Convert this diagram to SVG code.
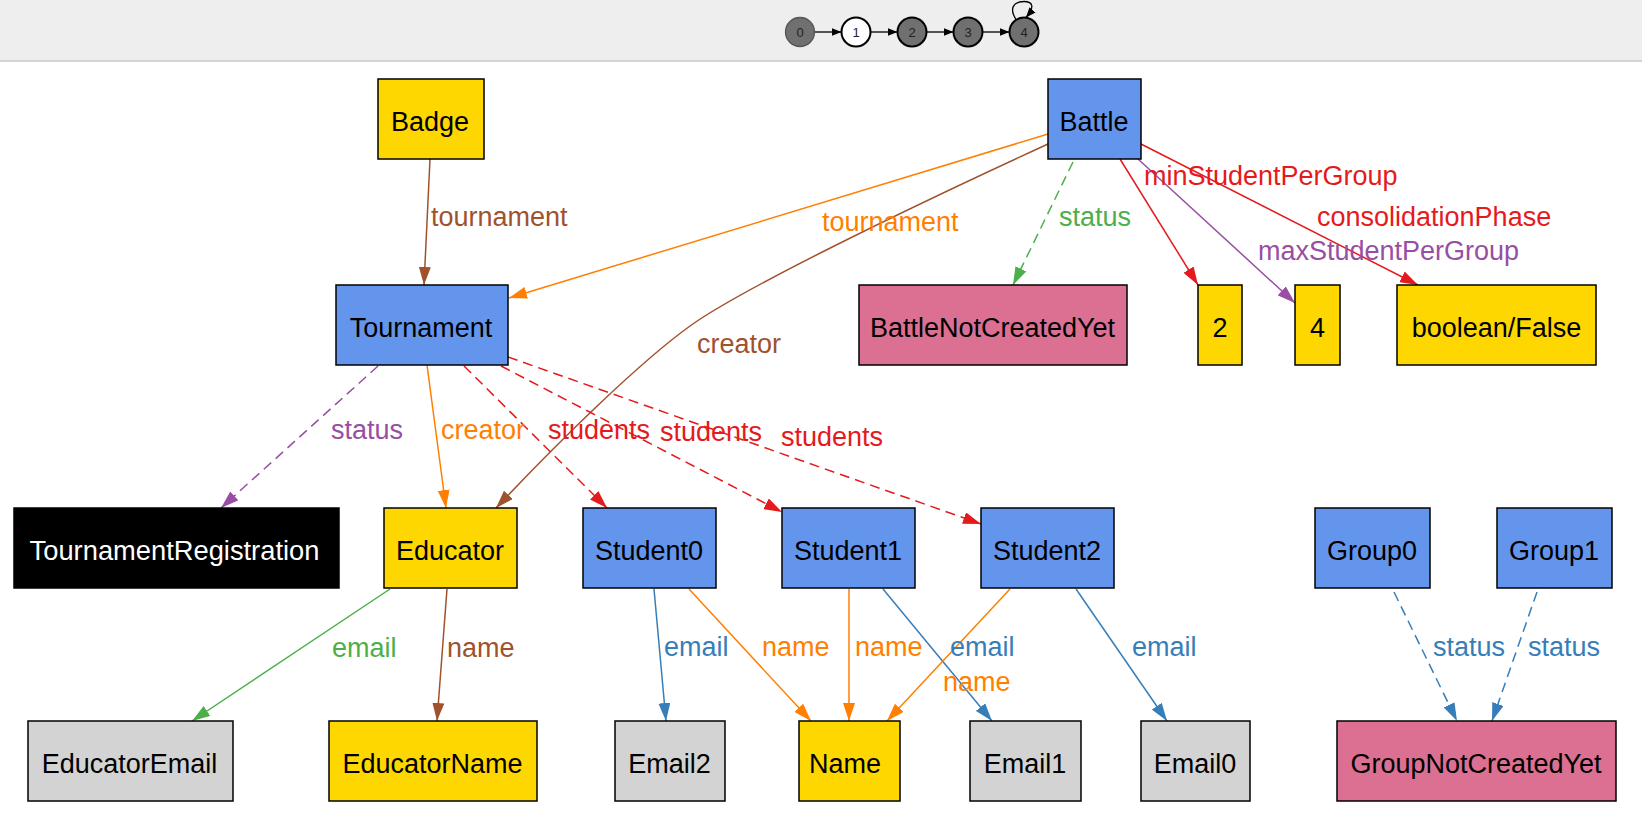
<svg xmlns="http://www.w3.org/2000/svg" width="1642" height="816" viewBox="0 0 1642 816">
<style>
.n{stroke:#000;stroke-width:1.5}
.t{font-family:"Liberation Sans",Arial,sans-serif;font-size:27px;text-anchor:middle;fill:#000}
.l{font-family:"Liberation Sans",Arial,sans-serif;font-size:27px}
.e{fill:none;stroke-width:1.5}
.d{stroke-dasharray:10,6}
.sn{font-family:"Liberation Sans",Arial,sans-serif;font-size:13px;text-anchor:middle;fill:#222}
</style>
<defs>
<marker id="mS" markerUnits="userSpaceOnUse" markerWidth="18" markerHeight="12" refX="18" refY="6" orient="auto"><path d="M0,0 L18,6 L0,12 z" fill="#A0522D"/></marker>
<marker id="mO" markerUnits="userSpaceOnUse" markerWidth="18" markerHeight="12" refX="18" refY="6" orient="auto"><path d="M0,0 L18,6 L0,12 z" fill="#FF7F00"/></marker>
<marker id="mG" markerUnits="userSpaceOnUse" markerWidth="18" markerHeight="12" refX="18" refY="6" orient="auto"><path d="M0,0 L18,6 L0,12 z" fill="#4DAF4A"/></marker>
<marker id="mR" markerUnits="userSpaceOnUse" markerWidth="18" markerHeight="12" refX="18" refY="6" orient="auto"><path d="M0,0 L18,6 L0,12 z" fill="#E41A1C"/></marker>
<marker id="mP" markerUnits="userSpaceOnUse" markerWidth="18" markerHeight="12" refX="18" refY="6" orient="auto"><path d="M0,0 L18,6 L0,12 z" fill="#984EA3"/></marker>
<marker id="mB" markerUnits="userSpaceOnUse" markerWidth="18" markerHeight="12" refX="18" refY="6" orient="auto"><path d="M0,0 L18,6 L0,12 z" fill="#377EB8"/></marker>
<marker id="mK" markerUnits="userSpaceOnUse" markerWidth="10" markerHeight="8" refX="10" refY="4" orient="auto"><path d="M0,0 L10,4 L0,8 z" fill="#000"/></marker>
</defs>
<rect x="0" y="0" width="1642" height="816" fill="#fff"/>
<g id="statebar">
<rect x="0" y="0" width="1642" height="61" fill="#eeeeee"/>
<line x1="0" y1="61" x2="1642" y2="61" stroke="#c8c8c8" stroke-width="1.5"/>
<g stroke="#000" stroke-width="1.3" fill="none">
<line x1="814.5" y1="32" x2="841.5" y2="32" marker-end="url(#mK)"/>
<line x1="870.5" y1="32" x2="897.5" y2="32" marker-end="url(#mK)"/>
<line x1="926.5" y1="32" x2="953.5" y2="32" marker-end="url(#mK)"/>
<line x1="982.5" y1="32" x2="1009.5" y2="32" marker-end="url(#mK)"/>
<path d="M1017,21 C1008,8 1014,1.5 1024,1.5 C1033,1.5 1035,7 1026,17.5" marker-end="url(#mK)"/>
</g>
<circle cx="800" cy="32" r="14.5" fill="#707070" stroke="#555" stroke-width="1.3"/>
<circle cx="856" cy="32" r="14.5" fill="#fff" stroke="#000" stroke-width="2"/>
<circle cx="912" cy="32" r="14.5" fill="#707070" stroke="#000" stroke-width="2"/>
<circle cx="968" cy="32" r="14.5" fill="#707070" stroke="#000" stroke-width="2"/>
<circle cx="1024" cy="32" r="14.5" fill="#707070" stroke="#000" stroke-width="2"/>
<text class="sn" x="800" y="36.5" fill="#444">0</text>
<text class="sn" x="856" y="36.5">1</text>
<text class="sn" x="912" y="36.5">2</text>
<text class="sn" x="968" y="36.5">3</text>
<text class="sn" x="1024" y="36.5">4</text>
</g>
<g id="connectors">
<path class="e" stroke="#A0522D" d="M430,159 L424,285" marker-end="url(#mS)"/>
<path class="e" stroke="#FF7F00" d="M1048,134 L509,298" marker-end="url(#mO)"/>
<path class="e" stroke="#A0522D" d="M1048,144 C900,212 740,290 690,326 C640,362 560,440 496,508" marker-end="url(#mS)"/>
<path class="e d" stroke="#4DAF4A" d="M1073,162 L1013,285" marker-end="url(#mG)"/>
<path class="e" stroke="#E41A1C" d="M1120,159 L1198,285" marker-end="url(#mR)"/>
<path class="e" stroke="#984EA3" d="M1138,159 L1295,303" marker-end="url(#mP)"/>
<path class="e" stroke="#E41A1C" d="M1141,144 L1418,285" marker-end="url(#mR)"/>
<path class="e d" stroke="#984EA3" d="M378,366 L221,508" marker-end="url(#mP)"/>
<path class="e" stroke="#FF7F00" d="M427,365 L446,508" marker-end="url(#mO)"/>
<path class="e d" stroke="#E41A1C" d="M464,366 L607,508" marker-end="url(#mR)"/>
<path class="e d" stroke="#E41A1C" d="M501,366 L782,512" marker-end="url(#mR)"/>
<path class="e d" stroke="#E41A1C" d="M508,357 L981,524" marker-end="url(#mR)"/>
<path class="e" stroke="#4DAF4A" d="M390,589 L192,721" marker-end="url(#mG)"/>
<path class="e" stroke="#A0522D" d="M447,589 L437,721" marker-end="url(#mS)"/>
<path class="e" stroke="#377EB8" d="M654,589 L666,721" marker-end="url(#mB)"/>
<path class="e" stroke="#FF7F00" d="M689,589 L811,721" marker-end="url(#mO)"/>
<path class="e" stroke="#FF7F00" d="M849,589 L849,721" marker-end="url(#mO)"/>
<path class="e" stroke="#377EB8" d="M883,589 L992,721" marker-end="url(#mB)"/>
<path class="e" stroke="#FF7F00" d="M1010,589 L887,721" marker-end="url(#mO)"/>
<path class="e" stroke="#377EB8" d="M1076,589 L1167,721" marker-end="url(#mB)"/>
<path class="e d" stroke="#377EB8" d="M1394,592 L1457,721" marker-end="url(#mB)"/>
<path class="e d" stroke="#377EB8" d="M1537,592 L1492,721" marker-end="url(#mB)"/>
<text class="l" fill="#A0522D" x="431" y="226">tournament</text>
<text class="l" fill="#FF7F00" x="822" y="231">tournament</text>
<text class="l" fill="#A0522D" x="697" y="353">creator</text>
<text class="l" fill="#4DAF4A" x="1059" y="226">status</text>
<text class="l" fill="#E41A1C" x="1144" y="185">minStudentPerGroup</text>
<text class="l" fill="#984EA3" x="1258" y="260">maxStudentPerGroup</text>
<text class="l" fill="#E41A1C" x="1317" y="226">consolidationPhase</text>
<text class="l" fill="#984EA3" x="331" y="439">status</text>
<text class="l" fill="#FF7F00" x="441" y="439">creator</text>
<text class="l" fill="#E41A1C" x="548" y="439">students</text>
<text class="l" fill="#E41A1C" x="660" y="441">students</text>
<text class="l" fill="#E41A1C" x="781" y="446">students</text>
<text class="l" fill="#4DAF4A" x="332" y="657">email</text>
<text class="l" fill="#A0522D" x="447" y="657">name</text>
<text class="l" fill="#377EB8" x="664" y="656">email</text>
<text class="l" fill="#FF7F00" x="762" y="656">name</text>
<text class="l" fill="#FF7F00" x="855" y="656">name</text>
<text class="l" fill="#377EB8" x="950" y="656">email</text>
<text class="l" fill="#FF7F00" x="943" y="691">name</text>
<text class="l" fill="#377EB8" x="1132" y="656">email</text>
<text class="l" fill="#377EB8" x="1433" y="656">status</text>
<text class="l" fill="#377EB8" x="1528" y="656">status</text>
</g>
<g id="Badge"><rect class="n" x="378" y="79" width="106" height="80" fill="#FFD700"/><text class="t" x="430" y="130.5">Badge</text></g>
<g id="Battle"><rect class="n" x="1048" y="79" width="93" height="80" fill="#6495ED"/><text class="t" x="1094" y="130.5">Battle</text></g>
<g id="Tournament"><rect class="n" x="336" y="285" width="172" height="80" fill="#6495ED"/><text class="t" x="421" y="336.5">Tournament</text></g>
<g id="BattleNotCreatedYet"><rect class="n" x="859" y="285" width="268" height="80" fill="#DB7093"/><text class="t" x="992.5" y="336.5">BattleNotCreatedYet</text></g>
<g id="Int2"><rect class="n" x="1198" y="285" width="44" height="80" fill="#FFD700"/><text class="t" x="1220" y="336.5">2</text></g>
<g id="Int4"><rect class="n" x="1295" y="285" width="45" height="80" fill="#FFD700"/><text class="t" x="1317.5" y="336.5">4</text></g>
<g id="BooleanFalse"><rect class="n" x="1397" y="285" width="199" height="80" fill="#FFD700"/><text class="t" x="1496.5" y="336.5">boolean/False</text></g>
<g id="TournamentRegistration"><rect class="n" x="14" y="508" width="325" height="80" fill="#000"/><text class="t" x="174.5" y="559.5" style="fill:#fff;font-size:27.3px">TournamentRegistration</text></g>
<g id="Educator"><rect class="n" x="384" y="508" width="133" height="80" fill="#FFD700"/><text class="t" x="450" y="559.5">Educator</text></g>
<g id="Student0"><rect class="n" x="583" y="508" width="133" height="80" fill="#6495ED"/><text class="t" x="649" y="559.5">Student0</text></g>
<g id="Student1"><rect class="n" x="782" y="508" width="133" height="80" fill="#6495ED"/><text class="t" x="848" y="559.5">Student1</text></g>
<g id="Student2"><rect class="n" x="981" y="508" width="133" height="80" fill="#6495ED"/><text class="t" x="1047" y="559.5">Student2</text></g>
<g id="Group0"><rect class="n" x="1315" y="508" width="115" height="80" fill="#6495ED"/><text class="t" x="1372" y="559.5">Group0</text></g>
<g id="Group1"><rect class="n" x="1497" y="508" width="115" height="80" fill="#6495ED"/><text class="t" x="1554" y="559.5">Group1</text></g>
<g id="EducatorEmail"><rect class="n" x="28" y="721" width="205" height="80" fill="#D3D3D3"/><text class="t" x="129.5" y="772.5">EducatorEmail</text></g>
<g id="EducatorName"><rect class="n" x="329" y="721" width="208" height="80" fill="#FFD700"/><text class="t" x="432.5" y="772.5">EducatorName</text></g>
<g id="Email2"><rect class="n" x="615" y="721" width="110" height="80" fill="#D3D3D3"/><text class="t" x="669.5" y="772.5">Email2</text></g>
<g id="Name"><rect class="n" x="799" y="721" width="101" height="80" fill="#FFD700"/><text class="t" x="845" y="772.5">Name</text></g>
<g id="Email1"><rect class="n" x="970" y="721" width="111" height="80" fill="#D3D3D3"/><text class="t" x="1025" y="772.5">Email1</text></g>
<g id="Email0"><rect class="n" x="1141" y="721" width="109" height="80" fill="#D3D3D3"/><text class="t" x="1195" y="772.5">Email0</text></g>
<g id="GroupNotCreatedYet"><rect class="n" x="1337" y="721" width="279" height="80" fill="#DB7093"/><text class="t" x="1476" y="772.5">GroupNotCreatedYet</text></g>
</svg>
